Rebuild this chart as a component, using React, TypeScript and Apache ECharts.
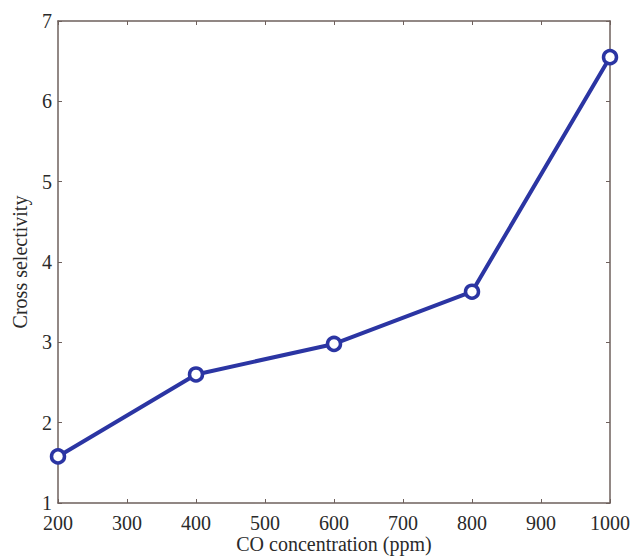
import React, { useEffect, useRef } from "react";
import * as echarts from "echarts";

const concentrations = [200, 400, 600, 800, 1000];
const selectivity = [1.58, 2.6, 2.98, 3.63, 6.55];
const xTitle = "CO concentration (ppm)";
const yTitle = "Cross selectivity";

const axisColor = "#6e605c";
const lineColor = "#2b35a3";
const textColor = "#2a2a2a";
const font = "'Liberation Serif', 'DejaVu Serif', serif";

export default function App() {
  const ref = useRef<HTMLDivElement>(null);
  useEffect(() => {
    if (!ref.current) return;
    const chart = echarts.init(ref.current, undefined, { renderer: "svg" });
    const axisCommon = {
      axisLine: { show: true, lineStyle: { color: axisColor, width: 1.5 } },
      axisTick: { show: true, inside: true, length: 4, lineStyle: { color: axisColor } },
      splitLine: { show: false },
    };
    chart.setOption({
      animation: false,
      backgroundColor: "#ffffff",
      grid: {
        left: 58,
        top: 21,
        right: 23,
        bottom: 54,
        containLabel: false,
        outerBoundsMode: "none",
      },
      xAxis: [
        {
          type: "value",
          min: 200,
          max: 1000,
          interval: 100,
          position: "bottom",
          ...axisCommon,
          axisLabel: {
            color: textColor,
            fontFamily: font,
            fontSize: 20,
            margin: 10,
            formatter: (v: number) => String(v),
          },
          name: xTitle,
          nameLocation: "middle",
          nameGap: 31,
          nameMoveOverlap: false,
          nameTextStyle: { color: textColor, fontFamily: font, fontSize: 20 },
        },
        {
          type: "value",
          min: 200,
          max: 1000,
          interval: 100,
          position: "top",
          ...axisCommon,
          axisLabel: { show: false },
        },
      ],
      yAxis: [
        {
          type: "value",
          min: 1,
          max: 7,
          interval: 1,
          position: "left",
          ...axisCommon,
          axisLabel: { color: textColor, fontFamily: font, fontSize: 20, margin: 6 },
          name: yTitle,
          nameLocation: "middle",
          nameGap: 28,
          nameMoveOverlap: false,
          nameRotate: 90,
          nameTextStyle: { color: textColor, fontFamily: font, fontSize: 20 },
        },
        {
          type: "value",
          min: 1,
          max: 7,
          interval: 1,
          position: "right",
          ...axisCommon,
          axisLabel: { show: false },
        },
      ],
      series: [
        {
          type: "line",
          xAxisIndex: 0,
          yAxisIndex: 0,
          data: concentrations.map((x, i) => [x, selectivity[i]]),
          lineStyle: { color: lineColor, width: 4 },
          symbol: "circle",
          symbolSize: 13,
          itemStyle: { color: "#ffffff", borderColor: lineColor, borderWidth: 3.5 },
        },
      ],
    });
    return () => chart.dispose();
  }, []);
  return (
    <div
      ref={ref}
      style={{ position: "fixed", left: 0, top: 0, width: 633, height: 557, background: "#fff" }}
    />
  );
}
